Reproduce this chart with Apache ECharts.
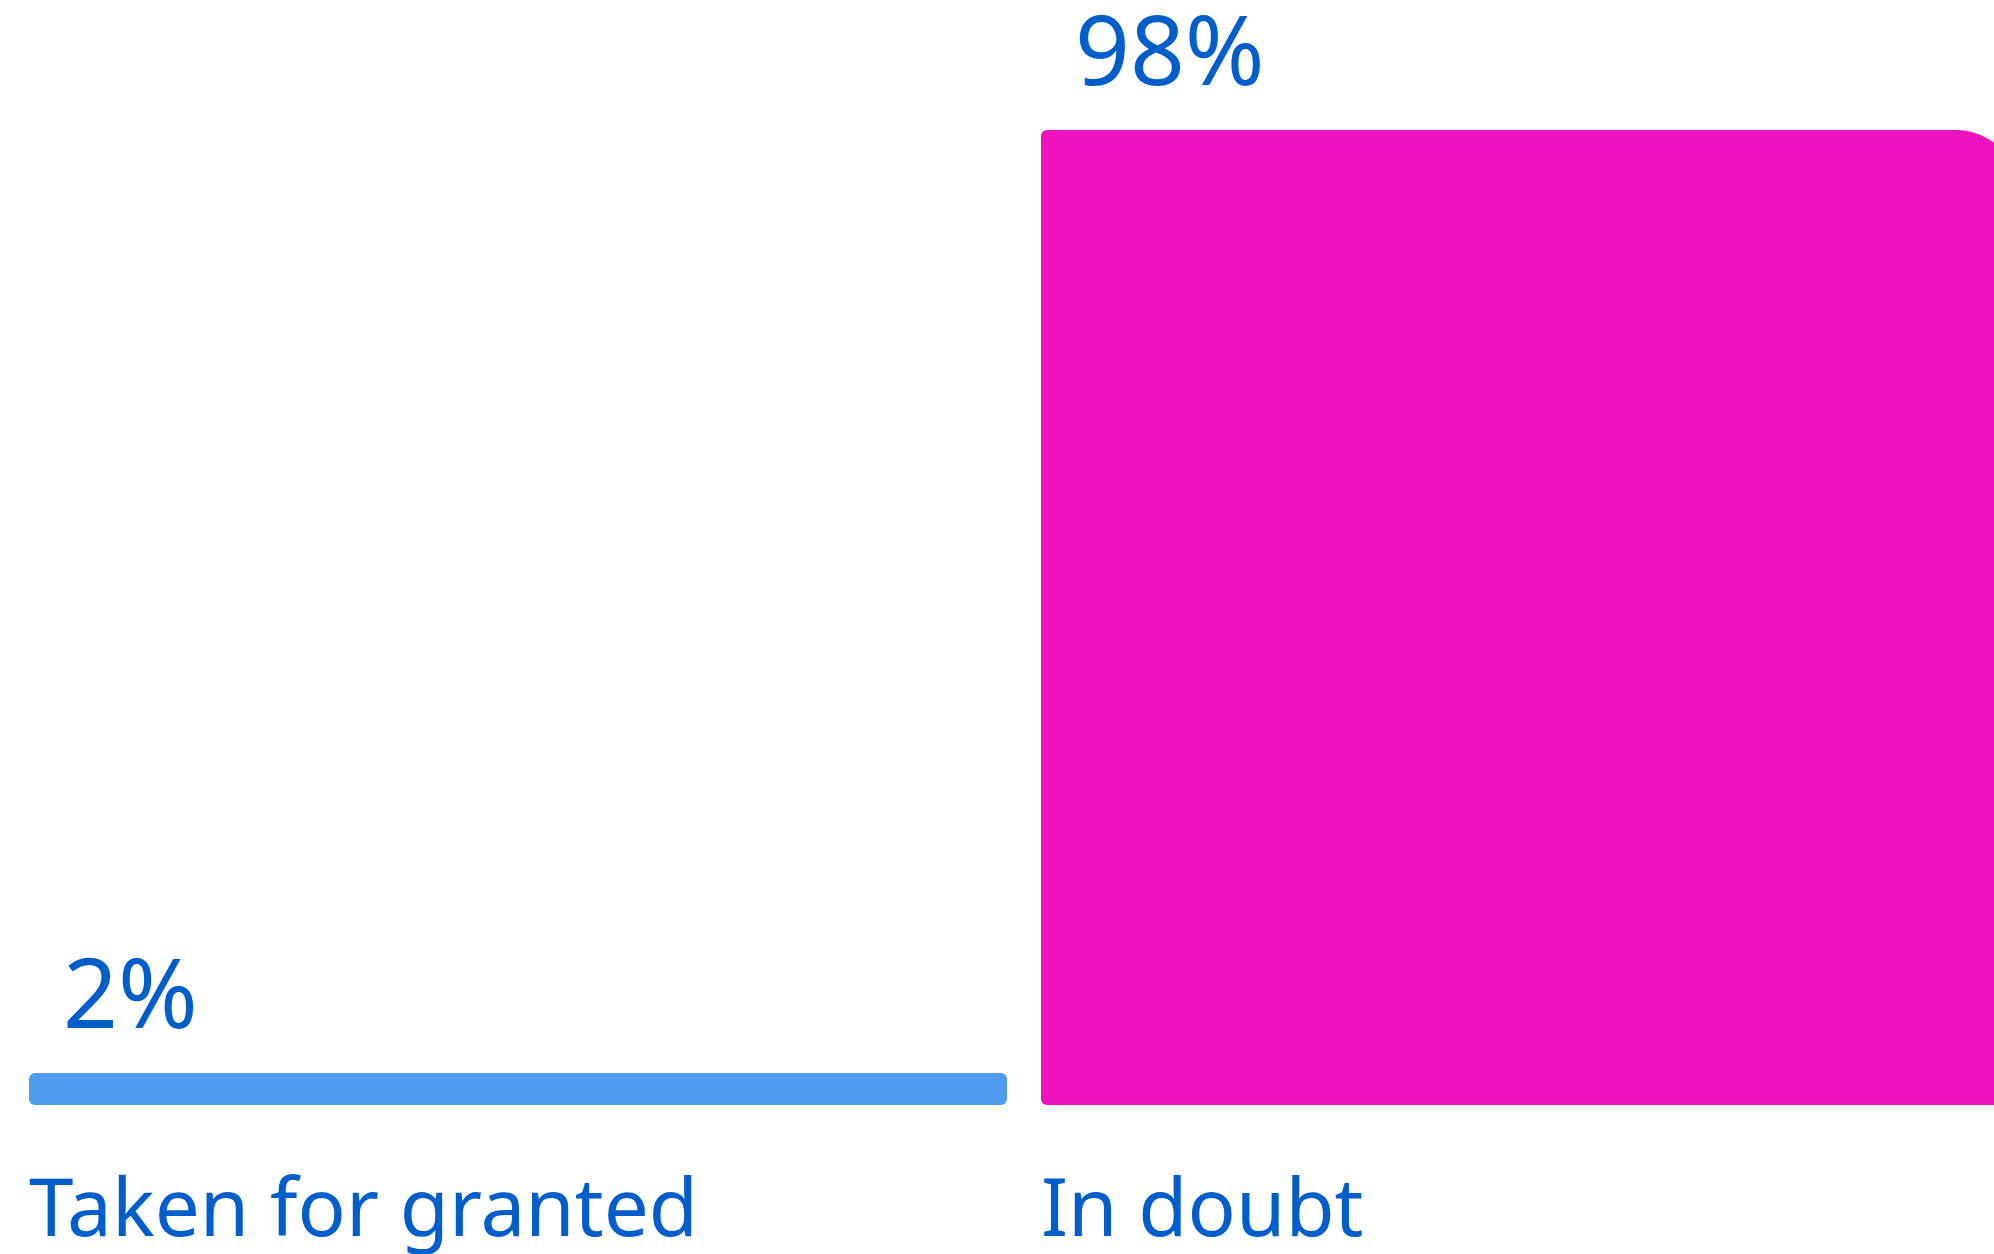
<!DOCTYPE html>
<html>
<head>
<meta charset="utf-8">
<script src="https://cdn.jsdelivr.net/npm/echarts@6/dist/echarts.min.js"></script>
<style>
  html, body { margin: 0; padding: 0; background: #fff; overflow: hidden; }
  /* wider than the window: the second bar runs past the right edge */
  #Bar { width: 2040px; height: 1254px; }
</style>
</head>
<body>
<div id="Bar"></div>
<script>
const categories = ['Taken for granted', 'In doubt']
const values = [2, 98]
const colors = ['#4f9bf0', '#f012be']

const chart = echarts.init(document.getElementById('Bar'))
const textColor = '#005ecb'

chart.setOption({
  animation: false,
  grid: {
    left: 12,
    right: 4,
    top: 130,
    bottom: 149
  },
  xAxis: {
    type: 'category',
    data: categories,
    axisLine: { show: false },
    axisTick: { show: false },
    axisLabel: {
      margin: 68,
      width: 978,
      // keep label at the left edge of the bar
      formatter: (v) => '{a|' + v + '}',
      rich: {
        a: {
          align: 'left',
          fontFamily: 'Noto Sans',
          fontSize: 80,
          color: textColor
        }
      }
    }
  },
  yAxis: {
    type: 'value',
    min: 0,
    max: 98,
    show: false,
    splitLine: { show: false }
  },
  series: [
    {
      type: 'bar',
      barWidth: 978,
      barMinHeight: 32,
      data: values.map((v, i) => ({
        value: v,
        itemStyle: {
          color: colors[i],
          borderRadius: i === 1 ? [6, 63, 6, 6] : 6
        }
      })),
      label: {
        show: true,
        position: [34, -24],
        verticalAlign: 'bottom',
        fontFamily: 'Noto Sans',
        fontSize: 96,
        color: textColor,
        formatter: (p) => p.value + '%'
      }
    }
  ]
})
window.addEventListener('resize', () => chart.resize())
</script>
</body>
</html>
